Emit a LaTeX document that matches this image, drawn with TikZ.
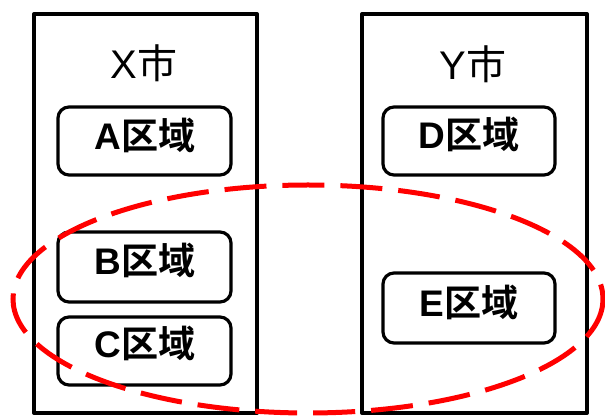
\documentclass[tikz,border=0pt]{standalone}
\usepackage{fontspec}
\setmainfont{Liberation Sans}
\newfontfamily\cjk{Noto Sans CJK JP}[BoldFont={Noto Sans CJK JP Bold}]
\begin{document}
\begin{tikzpicture}[x=1pt,y=-1pt,
  city/.style={draw=black,line width=4pt,line join=round},
  area/.style={draw=black,line width=3.2pt,rounded corners=11pt},
  title/.style={anchor=base,inner sep=0pt,font=\fontsize{40}{44}\selectfont},
  label/.style={anchor=base,inner sep=0pt,font=\fontsize{37}{40}\selectfont\bfseries},
  zone/.style={draw=red,line width=5pt,dash pattern=on 42pt off 16pt}]
\useasboundingbox (0,0) rectangle (605,419);
% city boxes
\draw[city] (34,14) rectangle (257,413);
\draw[city] (362,14) rectangle (587,413);
\node[title] (tx) at (144,79) {X{\cjk 市}};
\node[title] (ty) at (473,80) {Y{\cjk 市}};
% area boxes
\draw[area] (58,107) rectangle (231,175);
\draw[area] (58,232) rectangle (231,302);
\draw[area] (58,317) rectangle (231,385);
\draw[area] (383,107) rectangle (555,175);
\draw[area] (383,273) rectangle (555,343);
\node[label] (a) at (145,150) {A{\cjk 区域}};
\node[label] (b) at (145,275) {B{\cjk 区域}};
\node[label] (c) at (145,358) {C{\cjk 区域}};
\node[label] (d) at (469,149) {D{\cjk 区域}};
\node[label] (e) at (469,317) {E{\cjk 区域}};
% dashed ellipse
\draw[zone] (308,299) ellipse [x radius=295, y radius=114];
\end{tikzpicture}
\end{document}
